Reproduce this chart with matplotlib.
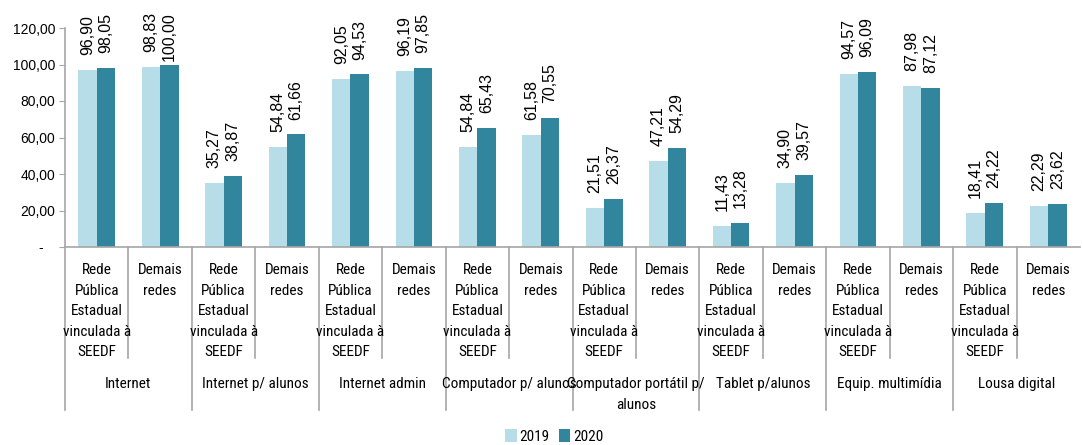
import numpy as np
import matplotlib
matplotlib.use("Agg")
import matplotlib.pyplot as plt
from matplotlib import font_manager

# ------------------------------------
# DATA
# ------------------------------------
groups = [
    "Internet",
    "Internet p/ alunos",
    "Internet admin",
    "Computador p/ alunos",
    "Computador portátil p/\nalunos",
    "Tablet p/alunos",
    "Equip. multimídia",
    "Lousa digital",
]
subcats = ["Rede\nPública\nEstadual\nvinculada à\nSEEDF", "Demais\nredes"]

values_2019 = [96.90, 98.83, 35.27, 54.84, 92.05, 96.19, 54.84, 61.58,
               21.51, 47.21, 11.43, 34.90, 94.57, 87.98, 18.41, 22.29]
values_2020 = [98.05, 100.00, 38.87, 61.66, 94.53, 97.85, 65.43, 70.55,
               26.37, 54.29, 13.28, 39.57, 96.09, 87.12, 24.22, 23.62]

yticks = [0, 20, 40, 60, 80, 100, 120]

# ------------------------------------
# FONTS (narrow face if there is one)
# ------------------------------------
names = {f.name for f in font_manager.fontManager.ttflist}
narrow, nsize, lsp = "Liberation Sans", 9.6, 1.75
for cand in ["Liberation Sans Narrow", "Arial Narrow", "Roboto Condensed"]:
    if cand in names:
        narrow, nsize, lsp = cand, 11, 1.6
        break
plt.rcParams["font.family"] = ["Liberation Sans", "DejaVu Sans"]

c2019 = "#B7DDE8"
c2020 = "#31859C"
grid_c = "#A6A6A6"

# ------------------------------------
# FIGURE
# ------------------------------------
fig = plt.figure(figsize=(10.83, 4.45), dpi=100)
ax = fig.add_axes([65 / 1083, 198 / 445, 1015 / 1083, 219 / 445])

n = len(values_2019)
x = np.arange(n)
w = 0.29

ax.bar(x - w / 2, values_2019, w, color=c2019, label="2019")
ax.bar(x + w / 2, values_2020, w, color=c2020, label="2020")

ax.set_xlim(-0.5, n - 0.5)
ax.set_ylim(0, 120)
ax.set_yticks(yticks)
ax.set_yticklabels(["-   " if v == 0 else f"{v:.2f}".replace(".", ",")
                    for v in yticks], fontsize=10)
ax.set_xticks([])

for s in ["top", "right"]:
    ax.spines[s].set_visible(False)
for s in ["left", "bottom"]:
    ax.spines[s].set_color(grid_c)
    ax.spines[s].set_linewidth(1.2)
ax.tick_params(axis="y", length=4, color=grid_c, pad=3)

# value labels
for vals, off in [(values_2019, -w / 2), (values_2020, w / 2)]:
    for xi, v in zip(x, vals):
        txt = f"{v:.2f}".replace(".", ",")
        if v + 8.2 + 4.1 * len(txt) > 128.5:
            ax.text(xi + off, 128.5, txt, rotation=90, ha="center",
                    va="top", fontsize=11.5, clip_on=False)
        else:
            ax.text(xi + off, v + 8.2, txt, rotation=90, ha="center",
                    va="bottom", fontsize=11.5, clip_on=False)

# multi-level category axis
tr = ax.get_xaxis_transform()
for i in range(n):
    edge = i - 0.5
    low = -0.744 if i % 2 == 0 else -0.507
    ax.plot([edge, edge], [0, low], transform=tr, color=grid_c,
            lw=1.2, clip_on=False)
    ax.text(i, -0.073, subcats[i % 2], transform=tr, ha="center", va="top",
            fontsize=nsize, family=narrow, linespacing=lsp)

for g, name in enumerate(groups):
    ax.text(2 * g + 0.5, -0.595, name, transform=tr, ha="center", va="top",
            fontsize=nsize, family=narrow, linespacing=lsp)

fig.legend(loc="center", bbox_to_anchor=(0.512, 0.02), ncol=2,
           frameon=False, handlelength=0.75, handleheight=1.0,
           handletextpad=0.2, columnspacing=0.6,
           prop={"family": narrow, "size": 11})

fig.savefig("out.png", dpi=100)
